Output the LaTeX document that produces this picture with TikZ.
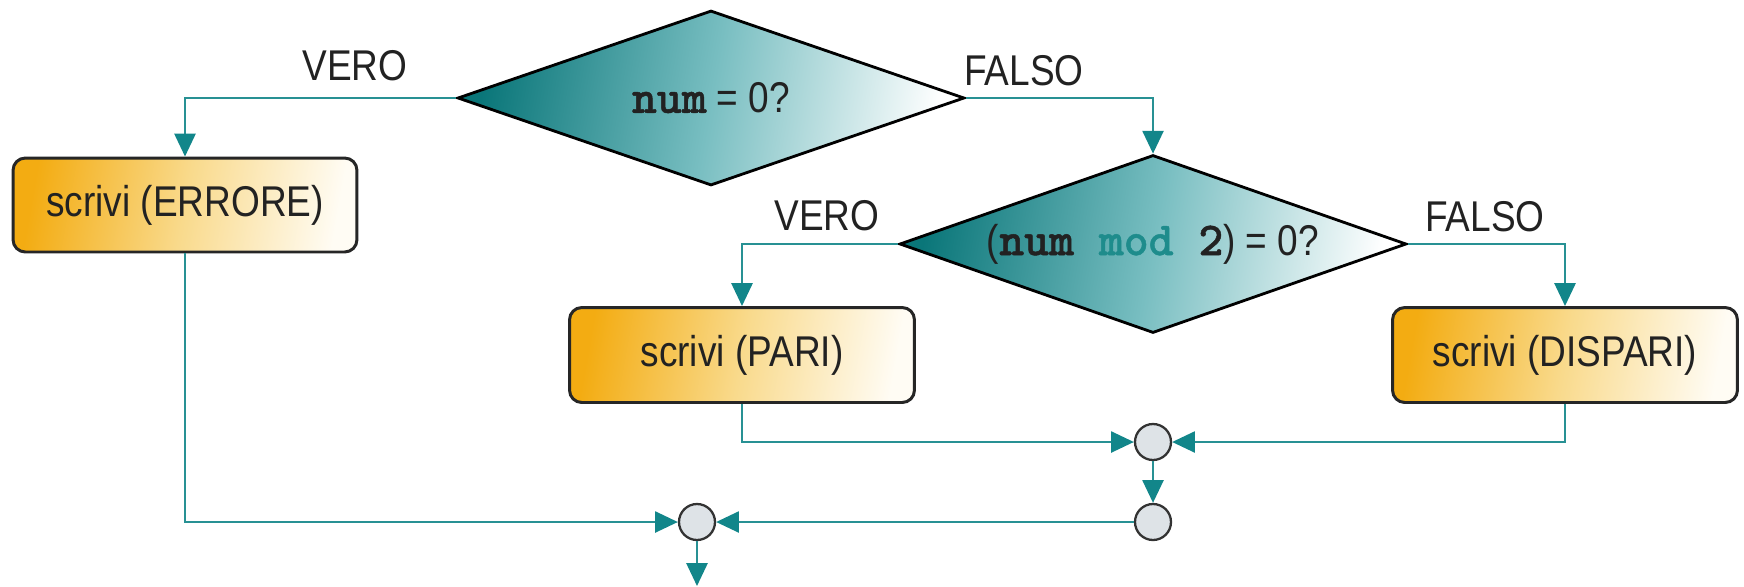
\documentclass[tikz,border=0pt]{standalone}
\usepackage{fontspec}
\setmainfont{Liberation Sans}[FakeStretch=0.86]
\newfontfamily\codefont{lmmonolt10-bold.otf}[FakeBold=1]
\usetikzlibrary{shapes.geometric,arrows.meta}

\definecolor{linkteal}{RGB}{40,145,148}
\definecolor{tipteal}{RGB}{18,134,138}
\definecolor{deepteal}{RGB}{10,118,121}
\definecolor{midteal}{RGB}{120,190,193}
\definecolor{codeteal}{RGB}{30,140,140}
\definecolor{boxorange}{RGB}{243,172,18}
\definecolor{boxmid}{RGB}{249,218,140}
\definecolor{boxpale}{RGB}{255,252,244}
\definecolor{joinfill}{RGB}{222,227,231}
\definecolor{inktext}{RGB}{34,34,34}

\newcommand{\code}[1]{{\fontsize{27}{30}\selectfont\codefont #1}}

\tikzset{
  decision/.style={diamond, aspect=2.85, draw=black, line width=1.6pt, inner sep=0pt,
    left color=deepteal, right color=white, middle color=midteal,
    shading angle=80, text=inktext},
  action/.style={rectangle, rounded corners=7pt, draw=black!85, line width=1.7pt,
    left color=boxorange, right color=boxpale, middle color=boxmid,
    shading angle=80, minimum width=6.9cm, minimum height=1.9cm, text=inktext},
  joint/.style={circle, draw=black!80, line width=1.3pt, fill=joinfill,
    minimum size=0.72cm, inner sep=0pt},
  flow/.style={draw=linkteal, line width=1.3pt,
    -{Triangle[length=13pt,width=12pt,fill=tipteal,color=tipteal]}},
  branch/.style={text=inktext, inner sep=0pt},
}

\begin{document}
\begin{tikzpicture}[x=0.02cm, y=-0.02cm, font=\fontsize{24.5}{28}\selectfont]
  \useasboundingbox (0,0) rectangle (1744,586);

  % decisions
  \node[decision, minimum width=10.14cm, minimum height=3.5cm] (d1) at (711,98)
    {\code{num} = 0?};
  \node[decision, minimum width=10.14cm, minimum height=3.56cm] (d2) at (1153,244)
    {(\code{num \textcolor{codeteal}{mod} 2}) = 0?};

  % actions
  \node[action, minimum width=6.88cm, minimum height=1.88cm] (err) at (185,205) {scrivi (ERRORE)};
  \node[action] (pari) at (742,355) {scrivi (PARI)};
  \node[action] (disp) at (1565,355) {scrivi (DISPARI)};

  % junctions
  \node[joint] (j1) at (1153,442) {};
  \node[joint] (j2) at (1153,522) {};
  \node[joint] (j3) at (697,522) {};
  \coordinate (out) at (697,586);

  % branch labels
  \node[branch] at (355,66) {VERO};
  \node[branch] at (1024,71) {FALSO};
  \node[branch] at (827,216) {VERO};
  \node[branch] at (1485,217) {FALSO};

  % connectors
  \draw[flow] (d1.west) -| (err.north);
  \draw[flow] (d1.east) -| (d2.north);
  \draw[flow] (d2.west) -| (pari.north);
  \draw[flow] (d2.east) -| (disp.north);
  \draw[flow] (pari.south) |- (j1.west);
  \draw[flow] (disp.south) |- (j1.east);
  \draw[flow] (j1.south) -- (j2.north);
  \draw[flow] (j2.west) -- (j3.east);
  \draw[flow] (err.south) |- (j3.west);
  \draw[flow] (j3.south) -- (out);
\end{tikzpicture}
\end{document}
